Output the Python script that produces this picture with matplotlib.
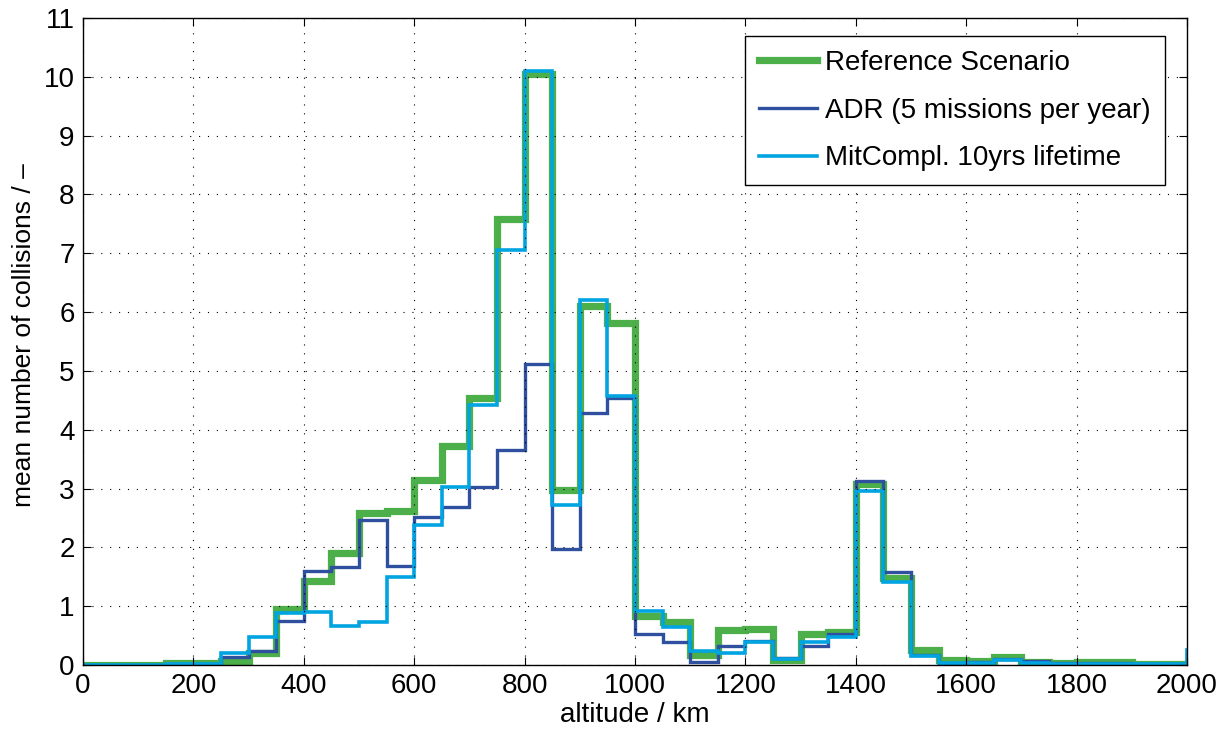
import numpy as np
import matplotlib
matplotlib.use("Agg")
import matplotlib.pyplot as plt

# bin edges every 50 km (one extra bin past 2000, cut by xlim)
edges = np.arange(0, 2051, 50)

# mean number of collisions per 50 km bin
reference = [0.0, 0.0, 0.0, 0.03, 0.03, 0.06, 0.2, 0.96, 1.43, 1.9,
             2.59, 2.62, 3.15, 3.73, 4.54, 7.58, 10.05, 2.98, 6.1, 5.82,
             0.83, 0.73, 0.17, 0.6, 0.62, 0.08, 0.52, 0.56, 3.07, 1.48,
             0.25, 0.09, 0.07, 0.14, 0.05, 0.04, 0.05, 0.05, 0.02, 0.02,
             0.02]
adr = [0.0, 0.0, 0.0, 0.02, 0.02, 0.13, 0.24, 0.74, 1.6, 1.66,
       2.47, 1.69, 2.52, 2.68, 3.02, 3.66, 5.11, 1.98, 4.29, 4.54,
       0.53, 0.39, 0.05, 0.32, 0.4, 0.12, 0.33, 0.52, 3.13, 1.58,
       0.17, 0.03, 0.05, 0.1, 0.06, 0.03, 0.04, 0.03, 0.02, 0.02,
       0.25]
mitcompl = [0.0, 0.0, 0.0, 0.01, 0.01, 0.2, 0.48, 0.88, 0.9, 0.66,
            0.73, 1.5, 2.38, 3.02, 4.42, 7.05, 10.1, 2.72, 6.21, 4.57,
            0.92, 0.65, 0.24, 0.21, 0.39, 0.1, 0.39, 0.47, 2.96, 1.41,
            0.15, 0.03, 0.03, 0.09, 0.03, 0.01, 0.01, 0.01, 0.01, 0.01,
            0.25]

nombres = ["Reference Scenario", "ADR (5 missions per year)", "MitCompl. 10yrs lifetime"]
colores = ["#4daf4a", "#2f4f9f", "#00a4e0"]

plt.rcParams['font.family'] = ['Liberation Sans', 'DejaVu Sans']

fig = plt.figure(figsize=(12.29, 7.36), dpi=100)
ax = fig.add_axes([83/1229, 1 - 665/736, 1104/1229, 647/736])

ax.stairs(reference, edges, baseline=None, color=colores[0], lw=5.2, label=nombres[0])
ax.stairs(adr, edges, baseline=None, color=colores[1], lw=2.4, label=nombres[1])
ax.stairs(mitcompl, edges, baseline=None, color=colores[2], lw=2.6, label=nombres[2])

ax.set_xlim(0, 2000)
ax.set_ylim(0, 11)
ax.set_xticks(np.arange(0, 2001, 200))
ax.set_yticks(np.arange(0, 12, 1))

ax.grid(True, color="black", linestyle=(0, (1, 7)), linewidth=0.8)
ax.tick_params(direction="in", top=True, right=True, length=6, labelsize=20, width=0.8, pad=6)
for s in ax.spines.values():
    s.set_linewidth(1.0)

ax.set_xlabel("altitude / km", fontsize=20, labelpad=2)
ax.set_ylabel("mean number of collisions / \u2013", fontsize=19)
ax.yaxis.set_label_coords(-0.043, 0.51)

leg = ax.legend(loc="upper right", bbox_to_anchor=(0.980, 0.972), borderaxespad=0,
                fontsize=20, fancybox=False, edgecolor="black", framealpha=1,
                handlelength=2.1, handletextpad=0.3, labelspacing=0.78, borderpad=0.5)
leg.get_frame().set_linewidth(1.0)

fig.savefig("out.png", dpi=100)
